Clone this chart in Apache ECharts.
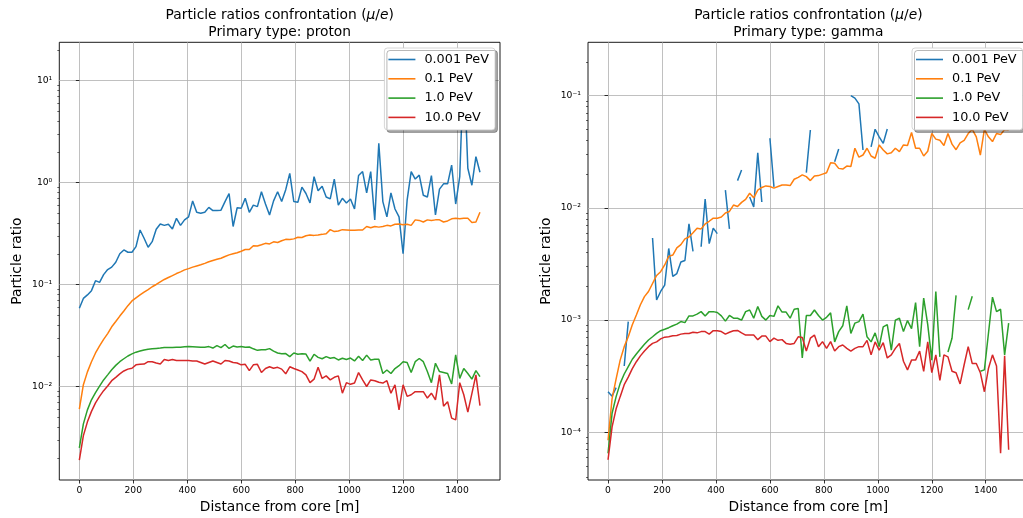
<!DOCTYPE html>
<html><head><meta charset="utf-8">
<script src="https://cdn.jsdelivr.net/npm/echarts@6/dist/echarts.min.js"></script>
<style>html,body{margin:0;padding:0;background:#fff;overflow:hidden}#c{width:1023px;height:518px}</style>
</head><body><div id="c"></div>
<script>
// ---------- data ----------
const distances = [0,15,30,45,60,75,90,105,120,135,150,165,180,195,210,225,240,255,270,285,
300,315,330,345,360,375,390,405,420,435,450,465,480,495,510,525,540,555,570,585,
600,615,630,645,660,675,690,705,720,735,750,765,780,795,810,825,840,855,870,885,
900,915,930,945,960,975,990,1005,1020,1035,1050,1065,1080,1095,1110,1125,1140,1155,1170,1185,
1200,1215,1230,1245,1260,1275,1290,1305,1320,1335,1350,1365,1380,1395,1410,1425,1440,1455,1470,1485];

const seriesNames = ['0.001 PeV','0.1 PeV','1.0 PeV','10.0 PeV'];
const seriesColors = ['#1f77b4','#ff7f0e','#2ca02c','#d62728'];

// Primary: proton
const protonE0001 = [0.0585,0.073,0.079,0.087,0.109,0.105,0.125,0.14,0.148,0.165,
0.2,0.218,0.207,0.207,0.235,0.342,0.284,0.232,0.263,0.348,
0.392,0.38,0.39,0.35,0.445,0.38,0.43,0.46,0.66,0.51,
0.50,0.51,0.57,0.53,0.53,0.535,0.65,0.78,0.37,0.565,
0.56,0.70,0.51,0.6,0.58,0.81,0.615,0.48,0.66,0.81,
0.65,0.85,1.23,0.65,0.64,0.9,0.78,0.63,1.14,0.83,
0.92,0.72,0.69,1.08,0.6,0.7,0.63,0.69,0.55,1.17,
1.28,0.79,1.28,0.43,2.42,0.65,0.46,0.79,0.55,0.46,
0.2,0.67,1.28,1.08,1.18,0.75,0.72,1.17,0.48,0.86,
0.97,0.97,1.48,0.615,1.14,15,1.38,0.94,1.79,1.26];
const protonE01 = [0.006,0.0104,0.0139,0.0175,0.0213,0.025,0.029,0.033,0.0385,0.0433,
0.049,0.055,0.062,0.069,0.074,0.079,0.084,0.089,0.095,0.1,
0.106,0.112,0.117,0.122,0.128,0.133,0.139,0.143,0.148,0.152,
0.156,0.161,0.167,0.172,0.177,0.181,0.188,0.195,0.2,0.205,
0.212,0.22,0.22,0.24,0.238,0.245,0.253,0.25,0.262,0.258,
0.268,0.277,0.276,0.28,0.29,0.289,0.3,0.305,0.303,0.306,
0.31,0.315,0.345,0.33,0.335,0.345,0.343,0.34,0.34,0.342,
0.342,0.37,0.36,0.37,0.365,0.37,0.38,0.375,0.39,0.392,
0.385,0.39,0.38,0.43,0.425,0.41,0.43,0.425,0.43,0.43,
0.41,0.42,0.44,0.445,0.44,0.445,0.445,0.405,0.41,0.51];
const protonE1 = [0.0025,0.0043,0.0059,0.0074,0.0087,0.0101,0.0116,0.013,0.0146,0.0161,
0.0175,0.0187,0.0199,0.0209,0.0217,0.0223,0.0228,0.0232,0.0234,0.0236,
0.0238,0.0241,0.0241,0.0241,0.0242,0.0243,0.0245,0.0246,0.0245,0.0244,
0.0242,0.0243,0.0246,0.0238,0.0252,0.0240,0.0258,0.0236,0.0249,0.0244,
0.0247,0.0243,0.0244,0.0234,0.0226,0.0229,0.0229,0.0235,0.0222,0.0213,
0.0209,0.0210,0.0196,0.0213,0.0207,0.0209,0.0208,0.0177,0.0207,0.0193,
0.0187,0.0196,0.0189,0.0192,0.0182,0.0189,0.0184,0.0190,0.0178,0.0198,
0.0180,0.0203,0.0182,0.0185,0.0185,0.0134,0.0145,0.0134,0.015,0.016,
0.0175,0.0172,0.0137,0.0175,0.0188,0.0175,0.014,0.0109,0.0169,0.014,
0.0137,0.0134,0.0106,0.0204,0.012,0.015,0.0134,0.0118,0.0143,0.0125];
const protonE10 = [0.0019,0.0033,0.0045,0.0057,0.0069,0.008,0.0091,0.0101,0.0114,0.0123,
0.0133,0.0142,0.0148,0.0151,0.0163,0.0165,0.0166,0.0175,0.0175,0.017,
0.0166,0.0184,0.018,0.0184,0.018,0.018,0.018,0.018,0.0178,0.0178,
0.0172,0.0166,0.0172,0.0178,0.0172,0.0166,0.018,0.0178,0.0172,0.0170,
0.0163,0.0165,0.0143,0.0163,0.0165,0.0137,0.0150,0.0156,0.0151,0.0154,
0.0148,0.0133,0.0156,0.0150,0.0145,0.0140,0.013,0.0109,0.0118,0.0154,
0.012,0.0127,0.0116,0.0123,0.0127,0.0086,0.0109,0.0105,0.0108,0.0137,
0.0116,0.0100,0.0116,0.0114,0.011,0.0108,0.0114,0.0086,0.0104,0.0059,
0.0104,0.008,0.0083,0.0089,0.0089,0.0089,0.0077,0.0086,0.0074,0.013,
0.0064,0.0071,0.0049,0.0047,0.0109,0.0083,0.0056,0.0085,0.013,0.0065];

// Primary: gamma (null = no value)
const gammaE0001 = [2.3e-4,2.1e-4,2.5e-4,null,3.9e-4,9.7e-4,null,null,null,null,
null,5.4e-3,1.51e-3,1.8e-3,2.05e-3,4.35e-3,2.45e-3,2.6e-3,3.3e-3,3.4e-3,
7.2e-3,4.1e-3,null,4.5e-3,0.012,4.8e-3,6.6e-3,5.9e-3,null,0.0144,
6.5e-3,null,0.0175,0.0218,null,0.0125,0.0102,0.031,0.0113,null,
0.0417,0.0154,null,null,null,null,null,null,null,0.0206,
0.0495,null,null,null,null,null,0.0258,0.0335,null,null,
0.1,0.095,0.0844,0.0328,null,0.035,0.0502,0.043,0.0376,0.0505,
null,null,null,null,null,null,null,null,null,null,
null,null,null,null,null,null,null,null,null,null,
null,null,null,null,null,null,null,null,null,null];
const gammaE01 = [8.5e-5,2.0e-4,3.0e-4,4.4e-4,5.8e-4,7.1e-4,9.1e-4,1.11e-3,1.37e-3,1.62e-3,
1.8e-3,2.12e-3,2.5e-3,2.7e-3,3.1e-3,3.7e-3,3.8e-3,4.4e-3,4.7e-3,5.3e-3,
5.5e-3,6.0e-3,6.6e-3,6.5e-3,7.2e-3,7.6e-3,8.1e-3,8.1e-3,8.3e-3,9.0e-3,
9.3e-3,0.0106,0.0103,0.0112,0.0119,0.0135,0.0123,0.0144,0.0152,0.0157,
0.0155,0.015,0.0155,0.016,0.016,0.0158,0.018,0.0187,0.0197,0.019,
0.0175,0.0192,0.0194,0.02,0.0206,0.0253,0.025,0.0225,0.0222,0.0236,
0.0234,0.034,0.0283,0.0296,0.034,0.029,0.0277,0.0364,0.0328,0.0303,
0.031,0.034,0.0317,0.0364,0.036,0.047,0.034,0.034,0.029,0.032,
0.046,0.041,0.04,0.036,0.046,0.037,0.033,0.038,0.04,0.046,
0.05,0.043,0.0296,0.05,0.043,0.039,0.046,0.045,0.05,0.0495];
const gammaE1 = [6.5e-5,1.48e-4,2.08e-4,2.73e-4,3.31e-4,3.85e-4,4.48e-4,4.99e-4,5.52e-4,6.08e-4,
6.65e-4,7.11e-4,7.62e-4,8.05e-4,8.28e-4,8.56e-4,8.9e-4,9.2e-4,9.7e-4,9.5e-4,
1.09e-3,1.09e-3,1.13e-3,1.19e-3,1.09e-3,1.19e-3,1.19e-3,1.17e-3,1.09e-3,9.8e-4,
1.1e-3,1.04e-3,1.04e-3,1.0e-3,1.19e-3,1.23e-3,1.04e-3,1.32e-3,1.08e-3,1.0e-3,
1.1e-3,1.08e-3,1.34e-3,1.18e-3,1.18e-3,1.04e-3,1.25e-3,1.27e-3,4.6e-4,1.1e-3,
1.1e-3,1.23e-3,1.1e-3,1.0e-3,1.06e-3,1.16e-3,6.4e-4,7.9e-4,8.9e-4,1.34e-3,
7.6e-4,9.4e-4,9.7e-4,1.13e-3,7.1e-4,6.4e-4,7.7e-4,5.8e-4,8.7e-4,9.1e-4,
5.4e-4,1.0e-3,1.04e-3,7.9e-4,9.9e-4,8.4e-4,1.43e-3,5.8e-4,1.57e-3,9.1e-4,
4.4e-4,1.8e-3,4.7e-4,null,5.2e-4,6.9e-4,1.66e-3,null,null,1.24e-3,
1.63e-3,null,3.5e-4,3.6e-4,7.6e-4,1.6e-3,1.19e-3,1.25e-3,4.9e-4,9.4e-4];
const gammaE10 = [5.7e-5,1.12e-4,1.62e-4,2.08e-4,2.66e-4,3.1e-4,3.7e-4,4.26e-4,4.8e-4,5.3e-4,
5.8e-4,6.2e-4,6.4e-4,6.8e-4,7.05e-4,7.1e-4,7.25e-4,7.3e-4,7.5e-4,7.6e-4,
7.6e-4,7.8e-4,7.7e-4,7.9e-4,7.9e-4,7.5e-4,8.05e-4,8.05e-4,7.9e-4,7.5e-4,
7.8e-4,8.05e-4,8.1e-4,7.7e-4,7.36e-4,7.36e-4,7.36e-4,6.7e-4,7.2e-4,7.2e-4,
6.43e-4,6.9e-4,6.6e-4,6.7e-4,6.2e-4,6.1e-4,6.2e-4,7.1e-4,7.0e-4,5.3e-4,
6.9e-4,7.36e-4,5.8e-4,6.43e-4,5.6e-4,6.43e-4,5.3e-4,5.8e-4,6.0e-4,5.6e-4,
5.3e-4,5.6e-4,5.8e-4,5.8e-4,6.6e-4,4.9e-4,6.4e-4,5.4e-4,6.3e-4,4.6e-4,
4.9e-4,5.6e-4,6.2e-4,4.3e-4,3.6e-4,4.4e-4,4.4e-4,5.3e-4,3.5e-4,6.4e-4,
3.4e-4,4.9e-4,2.9e-4,4.9e-4,4.7e-4,3.5e-4,3.4e-4,2.7e-4,4.0e-4,5.8e-4,
4.1e-4,4.1e-4,3.4e-4,2.3e-4,3.7e-4,4.9e-4,3.9e-4,6.5e-5,4.8e-4,7.0e-5];

// tick labels / tick positions
const xTicks = [0,200,400,600,800,1000,1200,1400];
const yTicksProton = [0.01,0.1,1,10];
const yTicksGamma = [0.0001,0.001,0.01,0.1];
const yMinorProton = [0.002,0.003,0.004,0.005,0.006,0.007,0.008,0.009,
  0.02,0.03,0.04,0.05,0.06,0.07,0.08,0.09,0.2,0.3,0.4,0.5,0.6,0.7,0.8,0.9,2,3,4,5,6,7,8,9,20];
const yMinorGamma = [0.00004,0.00005,0.00006,0.00007,0.00008,0.00009,
  0.0002,0.0003,0.0004,0.0005,0.0006,0.0007,0.0008,0.0009,0.002,0.003,0.004,0.005,0.006,0.007,0.008,0.009,
  0.02,0.03,0.04,0.05,0.06,0.07,0.08,0.09,0.2];

// ---------- chart ----------
const FONT = 'DejaVu Sans';
const SUP = {'-':'⁻','0':'⁰','1':'¹','2':'²','3':'³','4':'⁴','5':'⁵','6':'⁶','7':'⁷','8':'⁸','9':'⁹'};
function logLabel(v){
  const n = Math.log10(v);
  const r = Math.round(n);
  if (Math.abs(n - r) > 1e-6) return '';
  return '10' + String(r).split('').map(c => SUP[c]).join('');
}
const XMIN = -74.25, XMAX = 1559.25;
const grids = [
  {left: 59.3, top: 42.3, width: 440.7, height: 437.7},
  {left: 588, top: 42.3, width: 440.7, height: 437.7}
];
const yRanges = [[1.211e-3, 23.68],[3.76e-5, 0.299]];
const yMajor = [yTicksProton, yTicksGamma];
const yMinor = [yMinorProton, yMinorGamma];

const option = {
  animation: false,
  backgroundColor: '#fff',
  textStyle: {fontFamily: FONT},
  grid: grids.map(g => Object.assign({
    show: true, borderColor: '#000', borderWidth: 0.9, backgroundColor: 'transparent',
    containLabel: false, outerBoundsMode: 'none'
  }, g)),
  xAxis: [0,1].map(k => ({
    type: 'value', gridIndex: k, min: XMIN, max: XMAX,
    name: 'Distance from core [m]', nameLocation: 'middle', nameGap: 20,
    nameTextStyle: {fontFamily: FONT, fontSize: 13.8, color: '#000'},
    axisLine: {show: false},
    axisTick: {show: true, customValues: xTicks, length: 3.5, lineStyle: {color: '#000', width: 0.8}},
    axisLabel: {show: true, customValues: xTicks, margin: 6, fontFamily: FONT, fontSize: 9.2, color: '#000',
      formatter: v => String(v)},
    splitLine: {show: true, lineStyle: {color: '#b0b0b0', width: 0.8}}
  })),
  yAxis: [],
  series: [],
  legend: [
    {right: 1023 - 495, top: 48},
    {left: 912, top: 48}
  ].map(pos => Object.assign({
    orient: 'vertical', data: seriesNames, icon: 'rect', itemWidth: 27, itemHeight: 1.6,
    itemGap: 4.3, padding: [4, 6, 5, 4], selectedMode: false,
    textStyle: {fontFamily: FONT, fontSize: 12.8, color: '#000', lineHeight: 15, padding: [0,0,0,4]},
    backgroundColor: '#ffffff', borderColor: '#cccccc', borderWidth: 0.8, borderRadius: 3,
    shadowColor: 'rgba(0,0,0,0.35)', shadowOffsetX: 2.5, shadowOffsetY: 2.5, shadowBlur: 0
  }, pos)),
  graphic: []
};

[0,1].forEach(k => {
  option.yAxis.push({
    type: 'log', logBase: 10, gridIndex: k, min: yRanges[k][0], max: yRanges[k][1], position: 'left',
    name: 'Particle ratio', nameLocation: 'middle', nameGap: 35, nameRotate: 90,
    nameTextStyle: {fontFamily: FONT, fontSize: 13.8, color: '#000'},
    axisLine: {show: false},
    axisTick: {show: true, customValues: yMajor[k], length: 3.5, lineStyle: {color: '#000', width: 0.8}},
    axisLabel: {show: true, customValues: yMajor[k], margin: 7, fontFamily: FONT, fontSize: 9.2, color: '#000', formatter: logLabel},
    splitLine: {show: true, lineStyle: {color: '#b0b0b0', width: 0.8}}
  });
});
[0,1].forEach(k => {
  option.yAxis.push({
    type: 'log', logBase: 10, gridIndex: k, min: yRanges[k][0], max: yRanges[k][1], position: 'left',
    axisLine: {show: false},
    axisTick: {show: true, customValues: yMinor[k], length: 2, lineStyle: {color: '#000', width: 0.6}},
    axisLabel: {show: false}, splitLine: {show: false}
  });
});

const panels = [
  [protonE0001, protonE01, protonE1, protonE10],
  [gammaE0001, gammaE01, gammaE1, gammaE10]
];
panels.forEach((arrs, k) => {
  arrs.forEach((vals, s) => {
    option.series.push({
      type: 'line', name: seriesNames[s], xAxisIndex: k, yAxisIndex: k,
      data: distances.map((d, i) => [d, vals[i] === null ? '-' : vals[i]]),
      showSymbol: false, symbol: 'none', connectNulls: false, clip: true,
      lineStyle: {color: seriesColors[s], width: 1.5}, itemStyle: {color: seriesColors[s]},
      emphasis: {disabled: true}, z: 2 + s
    });
  });
});

const titles = [
  {x: 279.7, type: 'proton'},
  {x: 808.4, type: 'gamma'}
];
titles.forEach(t => {
  option.graphic.push({
    type: 'text', x: t.x, y: 15, z: 10,
    style: {
      text: 'Particle ratios confrontation ({i|μ}/{i|e})', align: 'center', verticalAlign: 'middle',
      fontFamily: FONT, fontSize: 13.8, fill: '#000',
      rich: {i: {fontFamily: FONT, fontSize: 13.8, fontStyle: 'italic', fill: '#000'}}
    }
  });
  option.graphic.push({
    type: 'text', x: t.x, y: 32, z: 10,
    style: {text: 'Primary type: ' + t.type, align: 'center', verticalAlign: 'middle',
      fontFamily: FONT, fontSize: 13.8, fill: '#000'}
  });
});

const chart = echarts.init(document.getElementById('c'), null, {renderer: 'canvas'});
chart.setOption(option);
</script>
</body></html>
